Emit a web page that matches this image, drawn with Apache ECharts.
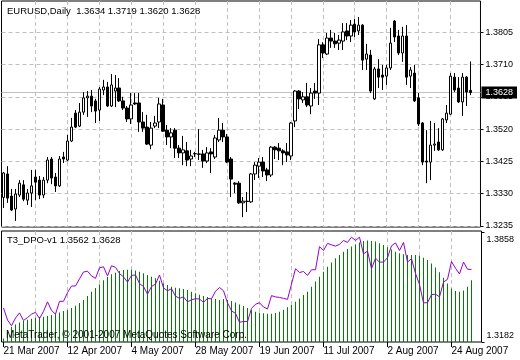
<!DOCTYPE html>
<html>
<head>
<meta charset="utf-8">
<script src="https://cdn.jsdelivr.net/npm/echarts@6/dist/echarts.min.js"></script>
<style>
html,body{margin:0;padding:0;background:#fff;}
#c{width:520px;height:360px;}
</style>
</head>
<body>
<div id="c"></div>
<script>
const categories = [
'21 Mar 2007','22 Mar 2007','23 Mar 2007','26 Mar 2007','27 Mar 2007','28 Mar 2007','29 Mar 2007','30 Mar 2007',
'2 Apr 2007','3 Apr 2007','4 Apr 2007','5 Apr 2007','6 Apr 2007','9 Apr 2007','10 Apr 2007','11 Apr 2007','12 Apr 2007','13 Apr 2007','16 Apr 2007','17 Apr 2007','18 Apr 2007','19 Apr 2007','20 Apr 2007','23 Apr 2007','24 Apr 2007','25 Apr 2007','26 Apr 2007','27 Apr 2007','30 Apr 2007',
'1 May 2007','2 May 2007','3 May 2007','4 May 2007','7 May 2007','8 May 2007','9 May 2007','10 May 2007','11 May 2007','14 May 2007','15 May 2007','16 May 2007','17 May 2007','18 May 2007','21 May 2007','22 May 2007','23 May 2007','24 May 2007','25 May 2007','28 May 2007','29 May 2007','30 May 2007','31 May 2007',
'1 Jun 2007','4 Jun 2007','5 Jun 2007','6 Jun 2007','7 Jun 2007','8 Jun 2007','11 Jun 2007','12 Jun 2007','13 Jun 2007','14 Jun 2007','15 Jun 2007','18 Jun 2007','19 Jun 2007','20 Jun 2007','21 Jun 2007','22 Jun 2007','25 Jun 2007','26 Jun 2007','27 Jun 2007','28 Jun 2007','29 Jun 2007',
'2 Jul 2007','3 Jul 2007','4 Jul 2007','5 Jul 2007','6 Jul 2007','9 Jul 2007','10 Jul 2007','11 Jul 2007','12 Jul 2007','13 Jul 2007','16 Jul 2007','17 Jul 2007','18 Jul 2007','19 Jul 2007','20 Jul 2007','23 Jul 2007','24 Jul 2007','25 Jul 2007','26 Jul 2007','27 Jul 2007','30 Jul 2007','31 Jul 2007',
'1 Aug 2007','2 Aug 2007','3 Aug 2007','6 Aug 2007','7 Aug 2007','8 Aug 2007','9 Aug 2007','10 Aug 2007','13 Aug 2007','14 Aug 2007','15 Aug 2007','16 Aug 2007','17 Aug 2007','20 Aug 2007','21 Aug 2007','22 Aug 2007','23 Aug 2007','24 Aug 2007','27 Aug 2007','28 Aug 2007','29 Aug 2007','30 Aug 2007','31 Aug 2007',
'',''
];

const openP = [
1.3319,1.3388,1.3323,1.3285,1.3326,1.3356,1.3311,1.3332,1.3379,1.3370,
1.3326,1.3370,1.3432,1.3379,1.3353,1.3438,1.3429,1.3485,1.3567,1.3529,
1.3570,1.3612,1.3617,1.3603,1.3576,1.3635,1.3644,1.3588,1.3632,1.3641,
1.3603,1.3582,1.3550,1.3597,1.3597,1.3541,1.3526,1.3473,1.3529,1.3541,
1.3591,1.3517,1.3497,1.3517,1.3464,1.3450,1.3456,1.3432,1.3447,1.3447,
1.3447,1.3426,1.3453,1.3438,1.3488,1.3517,1.3497,1.3432,1.3361,1.3361,
1.3303,1.3308,1.3306,1.3388,1.3411,1.3423,1.3400,1.3385,1.3467,1.3464,
1.3456,1.3453,1.3441,1.3544,1.3632,1.3606,1.3615,1.3588,1.3632,1.3626,
1.3768,1.3741,1.3788,1.3779,1.3773,1.3779,1.3809,1.3794,1.3829,1.3809,
1.3826,1.3726,1.3738,1.3609,1.3697,1.3679,1.3676,1.3700,1.3838,1.3794,
1.3744,1.3794,1.3676,1.3685,1.3612,1.3538,1.3426,1.3423,1.3473,1.3482,
1.3459,1.3547,1.3564,1.3673,1.3641,1.3600,1.3673,1.3634
];
const highP = [
1.3394,1.3411,1.3344,1.3344,1.3370,1.3370,1.3344,1.3400,1.3400,1.3382,
1.3379,1.3438,1.3438,1.3391,1.3441,1.3453,1.3503,1.3553,1.3576,1.3597,
1.3629,1.3632,1.3635,1.3609,1.3644,1.3665,1.3659,1.3682,1.3679,1.3670,
1.3615,1.3588,1.3626,1.3626,1.3626,1.3570,1.3562,1.3541,1.3559,1.3612,
1.3609,1.3532,1.3523,1.3523,1.3473,1.3500,1.3482,1.3459,1.3453,1.3520,
1.3459,1.3467,1.3464,1.3503,1.3553,1.3538,1.3506,1.3438,1.3364,1.3367,
1.3320,1.3335,1.3391,1.3423,1.3435,1.3438,1.3406,1.3470,1.3470,1.3479,
1.3461,1.3479,1.3541,1.3635,1.3635,1.3629,1.3656,1.3641,1.3656,1.3785,
1.3776,1.3803,1.3812,1.3803,1.3797,1.3832,1.3832,1.3841,1.3844,1.3850,
1.3829,1.3771,1.3753,1.3703,1.3726,1.3709,1.3709,1.3818,1.3841,1.3812,
1.3821,1.3826,1.3703,1.3709,1.3626,1.3541,1.3517,1.3544,1.3538,1.3523,
1.3553,1.3591,1.3685,1.3685,1.3673,1.3685,1.3676,1.3719
];
const lowP = [
1.3288,1.3303,1.3279,1.3250,1.3320,1.3308,1.3297,1.3291,1.3311,1.3314,
1.3317,1.3361,1.3358,1.3335,1.3350,1.3420,1.3426,1.3482,1.3523,1.3526,
1.3562,1.3556,1.3570,1.3538,1.3544,1.3620,1.3585,1.3585,1.3585,1.3600,
1.3576,1.3541,1.3535,1.3591,1.3512,1.3512,1.3473,1.3461,1.3523,1.3523,
1.3512,1.3473,1.3464,1.3435,1.3435,1.3414,1.3411,1.3411,1.3438,1.3429,
1.3406,1.3420,1.3391,1.3432,1.3482,1.3482,1.3420,1.3320,1.3332,1.3300,
1.3261,1.3276,1.3303,1.3370,1.3376,1.3379,1.3367,1.3379,1.3432,1.3429,
1.3414,1.3423,1.3429,1.3526,1.3579,1.3597,1.3585,1.3564,1.3609,1.3591,
1.3729,1.3738,1.3759,1.3759,1.3753,1.3753,1.3782,1.3776,1.3791,1.3797,
1.3694,1.3694,1.3626,1.3606,1.3641,1.3635,1.3650,1.3694,1.3776,1.3738,
1.3718,1.3650,1.3641,1.3600,1.3529,1.3414,1.3361,1.3370,1.3456,1.3456,
1.3456,1.3538,1.3562,1.3629,1.3597,1.3559,1.3588,1.3620
];
const closeP = [
1.3391,1.3317,1.3282,1.3329,1.3361,1.3314,1.3332,1.3353,1.3364,1.3326,
1.3370,1.3429,1.3376,1.3353,1.3432,1.3432,1.3485,1.3526,1.3526,1.3570,
1.3612,1.3617,1.3588,1.3573,1.3638,1.3644,1.3588,1.3650,1.3641,1.3603,
1.3582,1.3550,1.3591,1.3594,1.3541,1.3523,1.3476,1.3523,1.3538,1.3594,
1.3514,1.3497,1.3509,1.3464,1.3450,1.3459,1.3429,1.3441,1.3448,1.3446,
1.3426,1.3450,1.3447,1.3494,1.3517,1.3497,1.3423,1.3373,1.3358,1.3303,
1.3308,1.3307,1.3388,1.3414,1.3423,1.3397,1.3385,1.3467,1.3459,1.3456,
1.3450,1.3444,1.3538,1.3632,1.3609,1.3615,1.3591,1.3626,1.3626,1.3768,
1.3744,1.3788,1.3779,1.3771,1.3782,1.3806,1.3794,1.3826,1.3806,1.3826,
1.3723,1.3741,1.3632,1.3697,1.3673,1.3673,1.3700,1.3773,1.3791,1.3744,
1.3794,1.3673,1.3694,1.3603,1.3535,1.3423,1.3423,1.3473,1.3476,1.3459,
1.3550,1.3567,1.3676,1.3635,1.3600,1.3673,1.3629,1.3628
];
const t3 = [
1.3204,1.3245,1.3276,1.3290,1.3302,1.3311,1.3319,1.3325,1.3331,1.3335,
1.3337,1.3341,1.3348,1.3356,1.3364,1.3372,1.3378,1.3391,1.3405,1.3421,
1.3440,1.3464,1.3491,1.3514,1.3536,1.3561,1.3583,1.3598,1.3608,1.3618,
1.3624,1.3626,1.3626,1.3622,1.3614,1.3604,1.3594,1.3583,1.3573,1.3559,
1.3542,1.3532,1.3522,1.3516,1.3512,1.3507,1.3501,1.3491,1.3481,1.3473,
1.3464,1.3458,1.3450,1.3446,1.3440,1.3446,1.3440,1.3434,1.3425,1.3413,
1.3403,1.3391,1.3378,1.3368,1.3362,1.3358,1.3356,1.3356,1.3360,1.3368,
1.3380,1.3395,1.3409,1.3430,1.3450,1.3471,1.3491,1.3522,1.3553,1.3583,
1.3614,1.3645,1.3671,1.3696,1.3717,1.3737,1.3753,1.3768,1.3782,1.3794,
1.3803,1.3805,1.3803,1.3799,1.3788,1.3778,1.3764,1.3751,1.3737,1.3727,
1.3721,1.3717,1.3717,1.3717,1.3712,1.3700,1.3686,1.3665,1.3639,1.3610,
1.3577,1.3542,1.3511,1.3495,1.3491,1.3499,1.3522,1.3562
];
const priceTicks = [1.3235,1.3330,1.3425,1.3520,1.3615,1.3710,1.3805];
const dpoTicks = [1.3182,1.3858];
const priceRange = [1.3232,1.3897];
const dpoRange = [1.3182,1.3864];

const FONT = 'Liberation Sans, Arial, sans-serif';
const n = closeP.length;
const last = n - 1;
const bid = closeP[last];
const fmt = v => Number(v).toFixed(4);
const candleData = openP.map((o, i) => [o, closeP[i], lowP[i], highP[i]]);
const gridEvery8 = (idx) => idx > 0 && idx % 8 === 0;
const labelEvery16 = (idx) => idx % 16 === 0 && idx < n;
const dash = {color: '#c0c0c0', type: [4, 3], width: 1};
const dpoLabel = v => (Number(v) >= dpoTicks[1] - 1e-6 ? '{t|' : '{b|') + fmt(v) + '}';

const chart = echarts.init(document.getElementById('c'), null, {renderer: 'canvas'});
chart.setOption({
  animation: false,
  backgroundColor: '#ffffff',
  textStyle: {fontFamily: FONT},
  title: [
    {text: 'EURUSD,Daily  ' + [openP[last], highP[last], lowP[last], bid].map(fmt).join(' '),
     left: 7, top: 6, padding: 0, textStyle: {fontSize: 9.5, fontWeight: 'normal', color: '#000', fontFamily: FONT}},
    {text: 'T3_DPO-v1 ' + fmt(t3[last]) + ' ' + fmt(bid),
     left: 7, top: 235, padding: 0, textStyle: {fontSize: 9.5, fontWeight: 'normal', color: '#000', fontFamily: FONT}},
    {text: 'MetaTrader, \u00a9 2001-2007 MetaQuotes Software Corp.',
     left: 6, top: 330, padding: 0, textStyle: {fontSize: 10, fontWeight: 'normal', color: '#000', fontFamily: FONT}}
  ],
  grid: [
    {left: 1.5, top: 1, width: 480, height: 226, show: true, borderColor: '#000', borderWidth: 1, backgroundColor: '#fff'},
    {left: 1.5, top: 231, width: 480, height: 111, show: true, borderColor: '#000', borderWidth: 1, backgroundColor: '#fff'}
  ],
  xAxis: [
    {type: 'category', gridIndex: 0, data: categories, boundaryGap: true,
     axisLine: {show: false}, axisTick: {show: false}, axisLabel: {show: false},
     splitLine: {show: true, interval: gridEvery8, alignWithLabel: true, lineStyle: dash}},
    {type: 'category', gridIndex: 1, data: categories, boundaryGap: true,
     axisLine: {show: false},
     axisTick: {show: true, interval: labelEvery16, alignWithLabel: true, length: 5, lineStyle: {color: '#000'}},
     axisLabel: {show: true, interval: labelEvery16, align: 'left', margin: 4, fontSize: 10, color: '#000', fontFamily: FONT},
     splitLine: {show: true, interval: gridEvery8, alignWithLabel: true, lineStyle: dash}}
  ],
  yAxis: [
    {type: 'value', gridIndex: 0, position: 'right', min: priceRange[0], max: priceRange[1], scale: true,
     axisLine: {show: false},
     axisTick: {show: true, length: 3, customValues: priceTicks, lineStyle: {color: '#000'}},
     axisLabel: {show: true, customValues: priceTicks, formatter: fmt, margin: 5, fontSize: 9, color: '#000', fontFamily: FONT},
     splitLine: {show: true, lineStyle: dash}},
    {type: 'value', gridIndex: 1, position: 'right', min: dpoRange[0], max: dpoRange[1], scale: true,
     axisLine: {show: false},
     axisTick: {show: true, length: 3, customValues: dpoTicks, lineStyle: {color: '#000'}},
     axisLabel: {show: true, customValues: dpoTicks, formatter: dpoLabel, margin: 5, fontSize: 9, color: '#000', fontFamily: FONT,
                 verticalAlignMinLabel: 'bottom', verticalAlignMaxLabel: 'top',
                 rich: {t: {fontSize: 9, fontFamily: FONT, color: '#000', padding: [3, 0, 0, 0]},
                        b: {fontSize: 9, fontFamily: FONT, color: '#000', padding: [0, 0, 2, 0]}}},
     splitLine: {show: false}},
    {type: 'value', gridIndex: 0, position: 'right', min: priceRange[0], max: priceRange[1], scale: true, z: 1,
     axisLine: {show: false},
     axisTick: {show: false, customValues: [bid]},
     axisLabel: {show: true, customValues: [bid], formatter: fmt, margin: 1, fontSize: 9, color: '#fff', fontFamily: FONT,
                 backgroundColor: '#000', padding: [2, 4, 1, 4]},
     splitLine: {show: true, lineStyle: {color: '#c0c0c0', type: 'solid', width: 1}}}
  ],
  series: [
    {type: 'candlestick', xAxisIndex: 0, yAxisIndex: 0, data: candleData, barWidth: 3, z: 3,
     itemStyle: {color: '#ffffff', color0: '#000000', borderColor: '#000000', borderColor0: '#000000', borderWidth: 1}},
    {type: 'bar', xAxisIndex: 1, yAxisIndex: 1, data: t3, barWidth: 1, clip: true,
     itemStyle: {color: '#008000'}},
    {type: 'line', xAxisIndex: 1, yAxisIndex: 1, data: closeP, showSymbol: false, symbol: 'none',
     lineStyle: {color: '#9400d3', width: 1}, itemStyle: {color: '#9400d3'}}
  ]
});
</script>
</body>
</html>
